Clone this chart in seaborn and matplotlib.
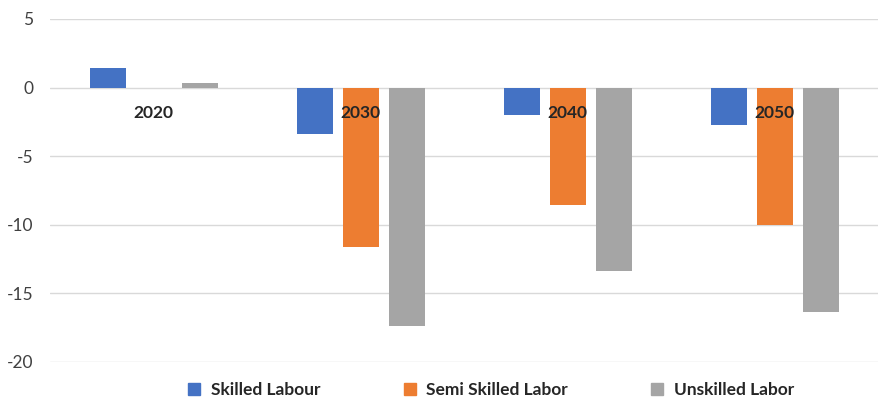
import matplotlib
matplotlib.use("Agg")
import matplotlib.pyplot as plt
import pandas as pd
import seaborn as sns

years = ["2020", "2030", "2040", "2050"]
series = ["Skilled Labour", "Semi Skilled Labor", "Unskilled Labor"]
skilled = [1.4, -3.4, -2.0, -2.75]
semi_skilled = [0.0, -11.6, -8.55, -10.05]
unskilled = [0.3, -17.4, -13.35, -16.35]
colors = ["#4472C4", "#ED7D31", "#A5A5A5"]

df = pd.DataFrame({
    "year": years * 3,
    "series": [s for s in series for _ in years],
    "value": skilled + semi_skilled + unskilled,
})

sns.set_style("white")
plt.rcParams["font.family"] = ["Lato", "DejaVu Sans"]
plt.rcParams["axes.unicode_minus"] = False

fig, ax = plt.subplots(figsize=(8.8, 4.04), dpi=100)
fig.subplots_adjust(left=0.057, right=0.998, top=0.953, bottom=0.104)

sns.barplot(data=df, x="year", y="value", hue="series", order=years,
            hue_order=series, palette=colors, width=0.667, saturation=1,
            linewidth=0, legend=False, ax=ax)

# narrow the bars a bit to leave gaps between them like the original
bar_w = 0.174
for p in ax.patches:
    c = p.get_x() + p.get_width() / 2
    p.set_width(bar_w)
    p.set_x(c - bar_w / 2)

ax.set_ylim(-20, 5)
ax.set_xlim(-0.5, 3.5)
ax.set_yticks([5, 0, -5, -10, -15, -20])
ax.yaxis.grid(True, color="#D9D9D9", linewidth=1)
ax.set_axisbelow(True)
ax.tick_params(axis="y", length=0, labelsize=12.5, pad=12, labelcolor="#404040")

for s in ax.spines.values():
    s.set_visible(False)
ax.set_xticks([])
ax.set_xlabel("")
ax.set_ylabel("")

# year labels sit just under the zero line, on top of the bars
for i, yr in enumerate(years):
    ax.annotate(yr, (i, 0), xytext=(0, -18), textcoords="offset points",
                ha="center", va="center", fontsize=12.5, fontweight="bold",
                zorder=10)

handles = [plt.Rectangle((0, 0), 1, 1, color=c) for c in colors]
fig.legend(handles, series, loc="center", bbox_to_anchor=(0.558, 0.035),
           ncol=3, frameon=False, handlelength=0.7, handleheight=0.7,
           handletextpad=0.6, columnspacing=4.8,
           prop={"weight": "bold", "size": 12.5})

fig.savefig("out.png", dpi=100)
